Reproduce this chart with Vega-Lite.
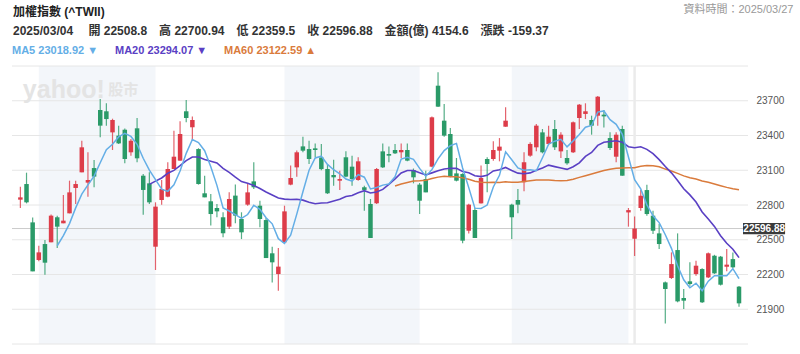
{
"$schema": "https://vega.github.io/schema/vega-lite/v6.json",
"width": 736, "height": 278,
"autosize": {"type": "none"},
"padding": {"left": 12, "top": 66, "right": 52, "bottom": 10},
"background": "white",
"config": {"view": {"stroke": null}, "font": "Liberation Sans, Noto Sans CJK TC, sans-serif"},
"title": {"text": "加權指數 (^TWII)", "subtitle": "2025/03/04\u2003 開 22508.8\u2003高 22700.94\u2003低 22359.5\u2003收 22596.88\u2003金額(億) 4154.6\u2003漲跌 -159.37", "anchor": "start", "frame": "group", "offset": 8, "dx": 1, "dy": 43, "fontSize": 12, "fontWeight": "bold", "color": "#222", "subtitleFontSize": 12, "subtitleFontWeight": "bold", "subtitleColor": "#333", "subtitlePadding": 7},
"datasets": {
"hover": [{"i": 100, "c": 22596.88}],
"bands": [{"s": 3, "e": 22}, {"s": 43, "e": 65}, {"s": 80, "e": 99}],
"grid": [{"g": 21600}, {"g": 21900}, {"g": 22200}, {"g": 22500}, {"g": 22800}, {"g": 23100}, {"g": 23400}, {"g": 23700}, {"g": 24000}]
},
"data": {"values": [
{"i":0,"o":22846,"h":22958,"l":22774,"c":22866},
{"i":1,"o":22981,"h":23079,"l":22814,"c":22823},
{"i":2,"o":22650,"h":22693,"l":22227,"c":22227},
{"i":3,"o":22325,"h":22449,"l":22314,"c":22391},
{"i":4,"o":22463,"h":22498,"l":22198,"c":22302},
{"i":5,"o":22478,"h":22717,"l":22478,"c":22708},
{"i":6,"o":22694,"h":22708,"l":22429,"c":22613,"m5":22448.2},
{"i":7,"o":22642,"h":22886,"l":22642,"c":22665,"m5":22535.8},
{"i":8,"o":22728,"h":23010,"l":22728,"c":22909,"m5":22639.4},
{"i":9,"o":22947,"h":23010,"l":22809,"c":22981,"m5":22775.2},
{"i":10,"o":23082,"h":23355,"l":23082,"c":23298,"m5":22893.2},
{"i":11,"o":22993,"h":23255,"l":22872,"c":23016,"m5":22973.8},
{"i":12,"o":23119,"h":23189,"l":22953,"c":23045,"m5":23049.8},
{"i":13,"o":23620,"h":23715,"l":23384,"c":23485,"m5":23165},
{"i":14,"o":23609,"h":23678,"l":23485,"c":23542,"m5":23277.2},
{"i":15,"o":23427,"h":23545,"l":23275,"c":23534,"m5":23324.4},
{"i":16,"o":23399,"h":23485,"l":23327,"c":23332,"m5":23387.6},
{"i":17,"o":23450,"h":23460,"l":23160,"c":23197,"m5":23418},
{"i":18,"o":23255,"h":23370,"l":23226,"c":23355,"m5":23392},
{"i":19,"o":23462,"h":23551,"l":23168,"c":23203,"m5":23324.2},
{"i":20,"o":23053,"h":23067,"l":22716,"c":22930,"m5":23203.4},
{"i":21,"o":22987,"h":23082,"l":22809,"c":22823,"m5":23101.6,"m20":22977.8},
{"i":22,"o":22440,"h":22823,"l":22239,"c":22786,"m5":23019.4,"m20":23005.8},
{"i":23,"o":22843,"h":23016,"l":22803,"c":22938,"m5":22936,"m20":23033.1},
{"i":24,"o":22872,"h":23168,"l":22866,"c":23111,"m5":22917.6,"m20":23073.6},
{"i":25,"o":23111,"h":23442,"l":23111,"c":23217,"m5":22975,"m20":23099},
{"i":26,"o":23183,"h":23522,"l":23183,"c":23413,"m5":23093,"m20":23139},
{"i":27,"o":23609,"h":23706,"l":23514,"c":23551,"m5":23246,"m20":23183.3},
{"i":28,"o":23471,"h":23563,"l":23355,"c":23534,"m5":23365.2,"m20":23214.6},
{"i":29,"o":23283,"h":23290,"l":22976,"c":22981,"m5":23339.2,"m20":23214.6},
{"i":30,"o":22901,"h":23053,"l":22866,"c":22866,"m5":23269,"m20":23193},
{"i":31,"o":22832,"h":22895,"l":22622,"c":22722,"m5":23130.8,"m20":23178.3},
{"i":32,"o":22774,"h":22809,"l":22694,"c":22745,"m5":22969.6,"m20":23163.3},
{"i":33,"o":22694,"h":22737,"l":22521,"c":22556,"m5":22774,"m20":23116.8},
{"i":34,"o":22613,"h":22909,"l":22593,"c":22852,"m5":22748.2,"m20":23082.3},
{"i":35,"o":22881,"h":22976,"l":22642,"c":22708,"m5":22716.6,"m20":23041},
{"i":36,"o":22679,"h":22737,"l":22506,"c":22564,"m5":22685,"m20":23002.6},
{"i":37,"o":22803,"h":22981,"l":22794,"c":22909,"m5":22717.8,"m20":22988.2},
{"i":38,"o":23004,"h":23168,"l":22938,"c":22953,"m5":22797.2,"m20":22968.1},
{"i":39,"o":22794,"h":22837,"l":22607,"c":22679,"m5":22762.6,"m20":22941.9},
{"i":40,"o":22670,"h":22688,"l":22342,"c":22342,"m5":22689.4,"m20":22912.5},
{"i":41,"o":22383,"h":22440,"l":22132,"c":22305,"m5":22637.6,"m20":22886.6},
{"i":42,"o":22204,"h":22429,"l":22060,"c":22268,"m5":22509.4,"m20":22860.7},
{"i":43,"o":22478,"h":22794,"l":22469,"c":22745,"m5":22467.8,"m20":22851.1},
{"i":44,"o":22976,"h":23140,"l":22970,"c":23033,"m5":22538.6,"m20":22847.2},
{"i":45,"o":23125,"h":23270,"l":23044,"c":23255,"m5":22721.2,"m20":22849.1},
{"i":46,"o":23306,"h":23390,"l":23255,"c":23269,"m5":22914,"m20":22841.9},
{"i":47,"o":23283,"h":23355,"l":23154,"c":23197,"m5":23099.8,"m20":22824.2},
{"i":48,"o":23289,"h":23332,"l":23212,"c":23275,"m5":23205.8,"m20":22811.2},
{"i":49,"o":23210,"h":23327,"l":23100,"c":23110,"m5":23221.2,"m20":22817.7},
{"i":50,"o":23111,"h":23154,"l":22895,"c":22901,"m5":23150.4,"m20":22819.4},
{"i":51,"o":23059,"h":23191,"l":22967,"c":23039,"m5":23104.4,"m20":22835.3},
{"i":52,"o":23010,"h":23096,"l":22930,"c":23024,"m5":23069.8,"m20":22849.2},
{"i":53,"o":23212,"h":23263,"l":23040,"c":23045,"m5":23023.8,"m20":22873.7},
{"i":54,"o":23131,"h":23226,"l":22967,"c":23024,"m5":23006.6,"m20":22882.3},
{"i":55,"o":23016,"h":23212,"l":23010,"c":23177,"m5":23061.8,"m20":22905.7},
{"i":56,"o":22953,"h":22967,"l":22751,"c":22930,"m5":23040,"m20":22924},
{"i":57,"o":22809,"h":22852,"l":22515,"c":22515,"m5":22938.2,"m20":22904.3},
{"i":58,"o":22815,"h":23119,"l":22809,"c":23111,"m5":22951.4,"m20":22912.2},
{"i":59,"o":23263,"h":23332,"l":23119,"c":23125,"m5":22971.6,"m20":22934.5},
{"i":60,"o":23240,"h":23304,"l":23168,"c":23226,"m5":22981.4,"m20":22978.7},
{"i":61,"o":23275,"h":23327,"l":23240,"c":23246,"m5":23044.6,"m20":23025.8,"m60":22963.4},
{"i":62,"o":23255,"h":23332,"l":23206,"c":23275,"m5":23196.6,"m20":23076.1,"m60":22980.9},
{"i":63,"o":23275,"h":23332,"l":23177,"c":23183,"m5":23211,"m20":23098,"m60":22994.1},
{"i":64,"o":23102,"h":23115,"l":22987,"c":23039,"m5":23193.8,"m20":23098.3,"m60":23006.3},
{"i":65,"o":22976,"h":22990,"l":22722,"c":22837,"m5":23116,"m20":23077.4,"m60":23008.5},
{"i":66,"o":23024,"h":23096,"l":22909,"c":22909,"m5":23048.6,"m20":23059.4,"m60":23013.4},
{"i":67,"o":23131,"h":23565,"l":23125,"c":23557,"m5":23105,"m20":23077.4,"m60":23028.3},
{"i":68,"o":23830,"h":23945,"l":23645,"c":23649,"m5":23198.2,"m20":23096.1,"m60":23040.6},
{"i":69,"o":23528,"h":23672,"l":23390,"c":23399,"m5":23270.2,"m20":23110.6,"m60":23047.6},
{"i":70,"o":23413,"h":23465,"l":23040,"c":23045,"m5":23311.8,"m20":23117.8,"m60":23043.4},
{"i":71,"o":23073,"h":23206,"l":23004,"c":23010,"m5":23332,"m20":23116.3,"m60":23043.3},
{"i":72,"o":23068,"h":23075,"l":22469,"c":22492,"m5":23119,"m20":23089.7,"m60":23034.1},
{"i":73,"o":22578,"h":22810,"l":22555,"c":22803,"m5":22949.8,"m20":23077.6,"m60":23022.7},
{"i":74,"o":22757,"h":22774,"l":22515,"c":22515,"m5":22773,"m20":23052.2,"m60":23005.6},
{"i":75,"o":22814,"h":23140,"l":22814,"c":23033,"m5":22770.6,"m20":23045,"m60":22997.2},
{"i":76,"o":23197,"h":23212,"l":22909,"c":23154,"m5":22799.4,"m20":23056.2,"m60":22994.3},
{"i":77,"o":23197,"h":23350,"l":23183,"c":23275,"m5":22956,"m20":23094.2,"m60":22995.6},
{"i":78,"o":23269,"h":23378,"l":23177,"c":23304,"m5":23056.2,"m20":23103.8,"m60":22994.7},
{"i":79,"o":23476,"h":23643,"l":23476,"c":23528,"m5":23258.8,"m20":23124,"m60":23000.1},
{"i":80,"o":22803,"h":22810,"l":22506,"c":22694,"m5":23191,"m20":23097.4,"m60":22996.2},
{"i":81,"o":22843,"h":22938,"l":22728,"c":22803,"m5":23120.8,"m20":23075.2,"m60":22995.9},
{"i":82,"o":22996,"h":23255,"l":22918,"c":23168,"m5":23099.4,"m20":23069.9,"m60":23002.2},
{"i":83,"o":23226,"h":23341,"l":23217,"c":23327,"m5":23104,"m20":23077.1,"m60":23008.7},
{"i":84,"o":23298,"h":23499,"l":23263,"c":23485,"m5":23095.4,"m20":23099.4,"m60":23014.9},
{"i":85,"o":23427,"h":23456,"l":23246,"c":23255,"m5":23207.6,"m20":23120.3,"m60":23015.6},
{"i":86,"o":23327,"h":23485,"l":23320,"c":23390,"m5":23325,"m20":23144.3,"m60":23015.2},
{"i":87,"o":23456,"h":23534,"l":23275,"c":23298,"m5":23351,"m20":23131.4,"m60":23011},
{"i":88,"o":23263,"h":23427,"l":23206,"c":23407,"m5":23367,"m20":23119.3,"m60":23008.9},
{"i":89,"o":23206,"h":23275,"l":23148,"c":23160,"m5":23302,"m20":23107.3,"m60":23011.8},
{"i":90,"o":23255,"h":23520,"l":23250,"c":23514,"m5":23353.8,"m20":23130.8,"m60":23022.6},
{"i":91,"o":23551,"h":23672,"l":23456,"c":23666,"m5":23409,"m20":23163.6,"m60":23038.4},
{"i":92,"o":23586,"h":23678,"l":23542,"c":23609,"m5":23471.2,"m20":23219.4,"m60":23052.8},
{"i":93,"o":23534,"h":23571,"l":23407,"c":23485,"m5":23486.8,"m20":23253.5,"m60":23068.3},
{"i":94,"o":23571,"h":23740,"l":23485,"c":23735,"m5":23601.8,"m20":23314.5,"m60":23083},
{"i":95,"o":23580,"h":23620,"l":23470,"c":23565,"m5":23612,"m20":23341.1,"m60":23097.3},
{"i":96,"o":23378,"h":23427,"l":23275,"c":23292,"m5":23537.2,"m20":23348,"m60":23109.4},
{"i":97,"o":23217,"h":23427,"l":23168,"c":23407,"m5":23496.8,"m20":23354.6,"m60":23117.7},
{"i":98,"o":23456,"h":23485,"l":23053,"c":23053,"m5":23410.4,"m20":23342.1,"m60":23119.4},
{"i":99,"o":22736,"h":22774,"l":22613,"c":22756,"m5":23214.6,"m20":23303.5,"m60":23120.6},
{"i":100,"o":22508.8,"h":22700.94,"l":22359.5,"c":22596.88,"m5":23018.92,"m20":23294.07,"m60":23122.59},
{"i":101,"o":22774,"h":22929,"l":22751,"c":22880,"m5":22938.6,"m20":23302.5,"m60":23134.5},
{"i":102,"o":22929,"h":22975,"l":22708,"c":22722,"m5":22801.6,"m20":23280.2,"m60":23142},
{"i":103,"o":22708,"h":22751,"l":22549,"c":22578,"m5":22706.6,"m20":23242.7,"m60":23139.3},
{"i":104,"o":22555,"h":22636,"l":22420,"c":22463,"m5":22648,"m20":23191.6,"m60":23129.8},
{"i":105,"o":22132,"h":22140,"l":21778,"c":22075,"m5":22543.6,"m20":23132.6,"m60":23110.1},
{"i":106,"o":22170,"h":22391,"l":22161,"c":22290,"m5":22425.6,"m20":23077.6,"m60":23093.8},
{"i":107,"o":22411,"h":22555,"l":21960,"c":21968,"m5":22274.8,"m20":23011.1,"m60":23073.3},
{"i":108,"o":21997,"h":22075,"l":21902,"c":21974,"m5":22154,"m20":22939.5,"m60":23051.6},
{"i":109,"o":22141,"h":22305,"l":22103,"c":22118,"m5":22085,"m20":22887.4,"m60":23035.1},
{"i":110,"o":22204,"h":22319,"l":22190,"c":22276,"m5":22125.2,"m20":22825.5,"m60":23024.7},
{"i":111,"o":22247,"h":22255,"l":21955,"c":21960,"m5":22059.2,"m20":22740.2,"m60":23006.7},
{"i":112,"o":22175,"h":22390,"l":22170,"c":22383,"m5":22142.2,"m20":22678.9,"m60":22996},
{"i":113,"o":22362,"h":22370,"l":22205,"c":22210,"m5":22189.4,"m20":22615.1,"m60":22982.1},
{"i":114,"o":22354,"h":22360,"l":22105,"c":22112,"m5":22188.2,"m20":22534,"m60":22966.9},
{"i":115,"o":22267,"h":22420,"l":22227,"c":22285,"m5":22190,"m20":22470,"m60":22952},
{"i":116,"o":22333,"h":22391,"l":22255,"c":22262,"m5":22250.4,"m20":22418.5,"m60":22940.9},
{"i":117,"o":22095,"h":22100,"l":21922,"c":21951,"m5":22164,"m20":22345.7,"m60":22931.5}
]},
"layer": [
{"data": {"name": "bands"}, "mark": {"type": "rect", "color": "#f3f6fa"},
 "encoding": {"x": {"field": "s", "type": "quantitative", "scale": {"domain": [-0.55, 117.65], "nice": false, "zero": false}, "axis": null}, "x2": {"field": "e"}}},
{"data": {"name": "grid"}, "mark": {"type": "rule", "color": "#e6e6e6", "strokeWidth": 1},
 "encoding": {"y": {"field": "g", "type": "quantitative", "title": "資料時間：2025/03/27", "scale": {"domain": [21600, 24000], "nice": false, "zero": false},
  "axis": {"orient": "right", "values": [21900, 22200, 22500, 22800, 23100, 23400, 23700], "grid": false, "ticks": false, "domain": false, "labelPadding": 8, "labelFontSize": 10, "labelColor": "#555", "format": "d", "title": "資料時間：2025/03/27", "titleAngle": 0, "titleAlign": "right", "titleBaseline": "middle", "titleX": 45, "titleY": -57, "titleFontSize": 11, "titleFontWeight": "normal", "titleColor": "#999"}}}},
{"data": {"name": "hover"}, "mark": {"type": "rule", "color": "#ebebeb", "strokeWidth": 2.5},
 "encoding": {"x": {"field": "i", "type": "quantitative", "scale": {"domain": [-0.55, 117.65], "nice": false, "zero": false}, "axis": null}}},
{"data": {"name": "hover"}, "mark": {"type": "rule", "color": "#cccccc", "strokeWidth": 1},
 "encoding": {"y": {"field": "c", "type": "quantitative", "title": "資料時間：2025/03/27", "scale": {"domain": [21600, 24000], "nice": false, "zero": false}}}},
{"data": {"values": [{}]}, "mark": {"type": "text", "text": "yahoo!", "fontSize": 25, "fontWeight": "bold", "color": "#e4e4e4", "align": "left", "baseline": "alphabetic"},
 "encoding": {"x": {"datum": 0.4, "type": "quantitative", "scale": {"domain": [-0.55, 117.65], "nice": false, "zero": false}, "axis": null}, "y": {"datum": 23724, "type": "quantitative", "title": "資料時間：2025/03/27", "scale": {"domain": [21600, 24000], "nice": false, "zero": false}}}},
{"data": {"values": [{}]}, "mark": {"type": "text", "text": "股市", "fontSize": 15, "fontWeight": "bold", "color": "#e4e4e4", "align": "left", "baseline": "alphabetic"},
 "encoding": {"x": {"datum": 14.3, "type": "quantitative", "scale": {"domain": [-0.55, 117.65], "nice": false, "zero": false}, "axis": null}, "y": {"datum": 23750, "type": "quantitative", "title": "資料時間：2025/03/27", "scale": {"domain": [21600, 24000], "nice": false, "zero": false}}}},
{"mark": {"type": "rule", "strokeWidth": 1.2, "opacity": 0.8},
 "encoding": {"x": {"field": "i", "type": "quantitative", "scale": {"domain": [-0.55, 117.65], "nice": false, "zero": false}, "axis": null},
  "y": {"field": "l", "type": "quantitative", "title": "資料時間：2025/03/27", "scale": {"domain": [21600, 24000], "nice": false, "zero": false}}, "y2": {"field": "h"},
  "color": {"condition": {"test": "datum.c >= datum.o", "value": "#dd3c49"}, "value": "#2a9a68"}}},
{"mark": {"type": "bar", "width": 4.5},
 "encoding": {"x": {"field": "i", "type": "quantitative", "scale": {"domain": [-0.55, 117.65], "nice": false, "zero": false}, "axis": null},
  "y": {"field": "o", "type": "quantitative", "title": "資料時間：2025/03/27", "scale": {"domain": [21600, 24000], "nice": false, "zero": false}}, "y2": {"field": "c"},
  "color": {"condition": {"test": "datum.c >= datum.o", "value": "#dd3c49"}, "value": "#2a9a68"}}},
{"mark": {"type": "line", "strokeWidth": 1.5},
 "encoding": {"x": {"field": "i", "type": "quantitative", "scale": {"domain": [-0.55, 117.65], "nice": false, "zero": false}, "axis": null},
  "y": {"field": "m60", "type": "quantitative", "title": "資料時間：2025/03/27", "scale": {"domain": [21600, 24000], "nice": false, "zero": false}},
  "color": {"datum": "MA60", "type": "nominal"}}},
{"mark": {"type": "line", "strokeWidth": 1.6},
 "encoding": {"x": {"field": "i", "type": "quantitative", "scale": {"domain": [-0.55, 117.65], "nice": false, "zero": false}, "axis": null},
  "y": {"field": "m20", "type": "quantitative", "title": "資料時間：2025/03/27", "scale": {"domain": [21600, 24000], "nice": false, "zero": false}},
  "color": {"datum": "MA20", "type": "nominal"}}},
{"mark": {"type": "line", "strokeWidth": 1.5},
 "encoding": {"x": {"field": "i", "type": "quantitative", "scale": {"domain": [-0.55, 117.65], "nice": false, "zero": false}, "axis": null},
  "y": {"field": "m5", "type": "quantitative", "title": "資料時間：2025/03/27", "scale": {"domain": [21600, 24000], "nice": false, "zero": false}},
  "color": {"datum": "MA5", "type": "nominal", "scale": {"domain": ["MA5", "MA20", "MA60"], "range": ["#64aee6", "#5a40c4", "#da7b3c"]},
   "legend": {"orient": "none", "legendX": -11, "legendY": -21, "direction": "horizontal", "title": null, "symbolSize": 0, "symbolOpacity": 0, "symbolStrokeWidth": 0, "labelOffset": 0, "columnPadding": 5, "labelFontSize": 11, "labelFontWeight": "bold", "padding": 0,
    "labelExpr": "datum.value == 'MA5' ? 'MA5 23018.92 ▼' : datum.value == 'MA20' ? 'MA20 23294.07 ▼' : 'MA60 23122.59 ▲'",
    "encode": {"labels": {"update": {"fill": {"signal": "datum.value == 'MA5' ? '#64aee6' : datum.value == 'MA20' ? '#5a40c4' : '#da7b3c'"}}}}}}}},
{"data": {"name": "hover"}, "mark": {"type": "rect", "color": "#3a3a3a"},
 "encoding": {"x": {"datum": 117.65, "type": "quantitative", "scale": {"domain": [-0.55, 117.65], "nice": false, "zero": false}, "axis": null}, "x2": {"datum": 124.5},
  "y": {"datum": 22645, "type": "quantitative", "title": "資料時間：2025/03/27", "scale": {"domain": [21600, 24000], "nice": false, "zero": false}}, "y2": {"datum": 22548}}},
{"data": {"name": "hover"}, "mark": {"type": "text", "color": "white", "fontSize": 10, "fontWeight": "bold", "align": "center", "baseline": "middle"},
 "encoding": {"x": {"datum": 121.1, "type": "quantitative", "scale": {"domain": [-0.55, 117.65], "nice": false, "zero": false}, "axis": null},
  "y": {"field": "c", "type": "quantitative", "title": "資料時間：2025/03/27", "scale": {"domain": [21600, 24000], "nice": false, "zero": false}},
  "text": {"field": "c", "type": "quantitative", "format": ".2f"}}}
]
}
